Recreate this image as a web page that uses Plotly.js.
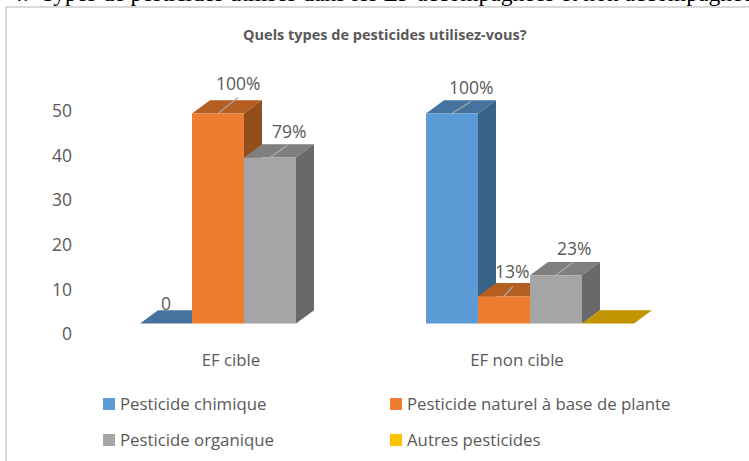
<!DOCTYPE html>
<html><head><meta charset="utf-8">
<script src="https://cdn.plot.ly/plotly-3.0.1.min.js"></script>
<style>html,body{margin:0;padding:0;background:#fff;overflow:hidden}</style>
</head><body><div id="chart" style="width:749px;height:461px"></div>
<script>
const categories = ["EF cible", "EF non cible"];
const seriesNames = ["Pesticide chimique", "Pesticide naturel à base de plante", "Pesticide organique", "Autres pesticides"];
const chimique = [0, 50];
const naturel = [50, 6.5];
const organique = [39.5, 11.5];
const autres = [null, 0];
const labelsChimique = ["0", "100%"];
const labelsNaturel = ["100%", "13%"];
const labelsOrganique = ["79%", "23%"];
const yTicks = [0, 10, 20, 30, 40, 50];
const chartTitle = "Quels types de pesticides utilisez-vous?";
const pageHeading = "4.&nbsp;&nbsp;Types de pesticides utilisés dans les EF accompagnées et non accompagnées";

const W = 749, H = 461;
const frontColors = ["#5B9BD5", "#ED7D31", "#A5A5A5", "#FFC000"];
const topColors = ["#44739F", "#B45E22", "#7F7F7F", "#C29500"];
const sideColors = ["#386288", "#924F1A", "#696969", "#9A7700"];
const textColor = "#595959";
const font = "'Open Sans', sans-serif";

const plotL = 101, plotR = 673, plotT = 60, plotB = 340, zeroPx = 323.5, pxPerUnit = 4.2;
const pxPerCat = (plotR - plotL) / 2;
const barW = 52 / pxPerCat;
const depthX = 18 / pxPerCat, depthY = 13.3 / pxPerUnit;

const values = [chimique, naturel, organique, autres];
const labels = [labelsChimique, labelsNaturel, labelsOrganique, [null, null]];
const legendIds = ["legend", "legend2", "legend3", "legend4"];
// label offset from bar top centre, in px: [dx, dy, leader end dx, leader end dy]
const labelOffsets = [
  [[0, 21, 0, 0], [19, 27, 19, 12]],
  [[20, 31, 20, 16], [8, 25, 9, 10]],
  [[19, 27, 18, 13], [18, 27, 17, 13]]
];

const traces = [];
const annotations = [];
values.forEach((vals, s) => {
  const offs = -2 * barW + s * barW;
  traces.push({
    type: "bar", name: seriesNames[s], x: [0, 1], y: vals, width: barW, offset: offs,
    marker: { color: frontColors[s], line: { width: 0 } }, zorder: s * 2 + 1,
    legend: legendIds[s], hoverinfo: "x+y"
  });
  const tx = [], ty = [], sx = [], sy = [];
  vals.forEach((v, c) => {
    if (v === null) return;
    const l = c + offs, r = l + barW;
    tx.push(l, r, r + depthX, l + depthX, l, null);
    ty.push(v, v, v + depthY, v + depthY, v, null);
    if (v > 0) {
      sx.push(r, r + depthX, r + depthX, r, r, null);
      sy.push(0, depthY, v + depthY, v, 0, null);
    }
  });
  [[tx, ty, topColors[s]], [sx, sy, sideColors[s]]].forEach(([px, py, col]) => {
    if (!px.length) return;
    traces.push({
      type: "scatter", mode: "lines", x: px, y: py, fill: "toself", fillcolor: col,
      line: { width: 0, color: col }, showlegend: false, hoverinfo: "skip", zorder: s * 2
    });
  });
  labels[s].forEach((t, c) => {
    if (t === null) return;
    const o = labelOffsets[s][c];
    const cx = c + offs + barW / 2;
    annotations.push({
      x: cx, y: vals[c], xref: "x", yref: "y", text: t, showarrow: false,
      xshift: o[0], yshift: o[1], font: { family: font, size: 17.5, color: textColor }
    });
    if (o[2] || o[3]) {
      traces.push({
        type: "scatter", mode: "lines", showlegend: false, hoverinfo: "skip", zorder: 20,
        x: [cx, cx + o[2] / pxPerCat], y: [vals[c], vals[c] + o[3] / pxPerUnit],
        line: { color: "#A6A6A6", width: 1.3 }
      });
    }
  });
});
// tick-label axis: its scale is a little wider than the bars' scale
traces.push({ type: "scatter", mode: "none", x: [0], y: [0], yaxis: "y2", showlegend: false, hoverinfo: "skip" });

annotations.push({
  xref: "paper", yref: "paper", x: 385 / W, y: 1 - 34 / H, yanchor: "middle", text: "<b>" + chartTitle + "</b>", showarrow: false,
  font: { family: font, size: 14.5, color: textColor }
});
annotations.push({
  xref: "paper", yref: "paper", x: 9 / W, y: 1 - 8 / H, xanchor: "left", yanchor: "bottom", align: "left",
  text: pageHeading, showarrow: false, font: { family: "'Liberation Serif', serif", size: 23.6, color: "#000" }
});

const legendFont = { family: font, size: 16.8, color: textColor };
const legendAt = (xPx, yPx) => ({
  x: xPx / W, xanchor: "left", y: 1 - yPx / H, yanchor: "middle", font: legendFont, bgcolor: "rgba(0,0,0,0)"
});
const layout = {
  width: W, height: H, margin: { l: 0, r: 0, t: 0, b: 0 }, paper_bgcolor: "#fff", plot_bgcolor: "#fff",
  barmode: "overlay", showlegend: true, annotations,
  xaxis: {
    domain: [plotL / W, plotR / W], range: [-0.5, 1.5], tickvals: [0, 1], ticktext: categories,
    showgrid: false, zeroline: false, showline: false, ticks: "",
    ticklabelshift: -13, ticklabelstandoff: 8, tickfont: { family: font, size: 16.8, color: textColor }
  },
  yaxis: {
    domain: [1 - plotB / H, 1 - plotT / H], range: [-(plotB - zeroPx) / pxPerUnit, (zeroPx - plotT) / pxPerUnit],
    showgrid: false, zeroline: false, showline: false, showticklabels: false, ticks: ""
  },
  yaxis2: {
    overlaying: "y", side: "left", anchor: "x", range: [-(plotB - 334) / 4.46, (334 - plotT) / 4.46],
    tickvals: yTicks, showgrid: false, zeroline: false, showline: false, ticks: "",
    ticklabelstandoff: 28, tickfont: { family: font, size: 17.5, color: textColor }
  },
  legend: legendAt(80, 404),
  legend2: legendAt(367, 404),
  legend3: legendAt(80, 440),
  legend4: legendAt(367, 440),
  shapes: [{
    type: "path", xref: "paper", yref: "paper", line: { color: "#D9D9D9", width: 2 },
    path: `M ${6 / W} 0 L ${6 / W} ${1 - 7 / H} L 1 ${1 - 7 / H}`
  }]
};
Plotly.newPlot("chart", traces, layout, { displayModeBar: false, responsive: false }).then(gd => {
  gd.querySelectorAll(".legendpoints").forEach(n => n.setAttribute("transform", "translate(9,0)"));
});
</script></body></html>
